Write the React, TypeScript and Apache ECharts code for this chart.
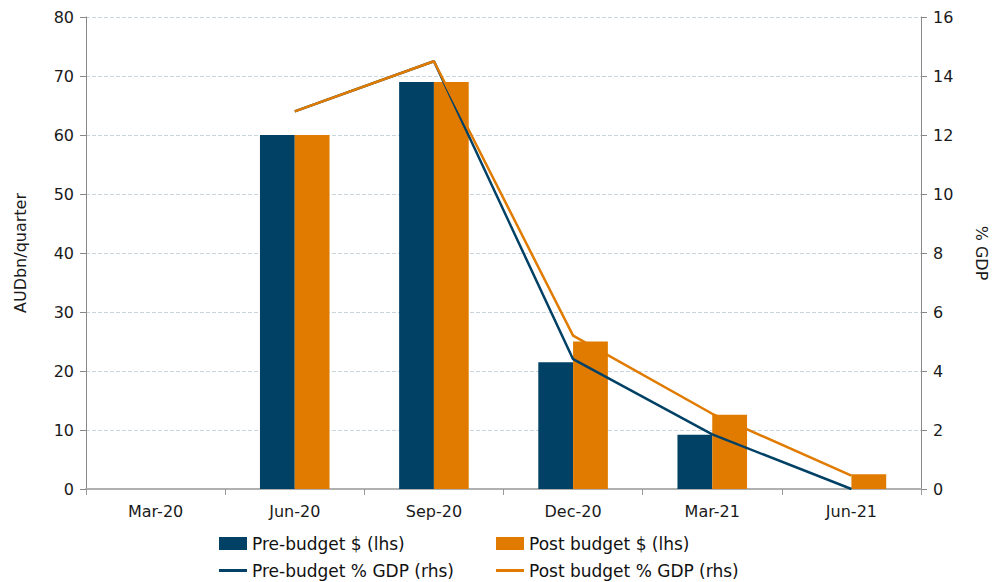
import React, { useEffect, useRef } from "react";
import * as echarts from "echarts";

const categories = ["Mar-20", "Jun-20", "Sep-20", "Dec-20", "Mar-21", "Jun-21"];
const preBudgetAud = [null, 60, 69, 21.5, 9.2, 0];
const postBudgetAud = [null, 60, 69, 25, 12.6, 2.5];
const preBudgetGdp = [null, 12.8, 14.5, 4.4, 1.85, 0];
const postBudgetGdp = [null, 12.8, 14.5, 5.2, 2.55, 0.45];

const NAVY = "#004165";
const ORANGE = "#E07B00";
const FONT = "DejaVu Sans";

export default function App() {
  const ref = useRef<HTMLDivElement>(null);
  useEffect(() => {
    document.body.style.margin = "0";
    if (!ref.current) return;
    const chart = echarts.init(ref.current, undefined, { renderer: "svg" });
    const legendText = { fontFamily: FONT, fontSize: 17, color: "#111" };
    const mkLegend = (name: string, left: number, top: number, isLine: boolean) => ({
      data: [name],
      left,
      top,
      padding: 0,
      icon: "rect",
      itemWidth: 28,
      itemHeight: isLine ? 3 : 13,
      textStyle: legendText,
    });
    chart.setOption({
      animation: false,
      textStyle: { fontFamily: FONT },
      grid: { left: 86, right: 80, top: 17, bottom: 93 },
      legend: [
        mkLegend("Pre-budget $ (lhs)", 219, 535, false),
        mkLegend("Post budget $ (lhs)", 496, 535, false),
        mkLegend("Pre-budget % GDP (rhs)", 219, 562, true),
        mkLegend("Post budget % GDP (rhs)", 496, 562, true),
      ],
      xAxis: {
        type: "category",
        data: categories,
        axisLine: { lineStyle: { color: "#b0b0b0", width: 2 } },
        axisTick: { show: true, length: 6, lineStyle: { color: "#999" } },
        axisLabel: { color: "#1a1a1a", fontSize: 16, margin: 14, fontFamily: FONT },
      },
      yAxis: [
        {
          type: "value",
          min: 0,
          max: 80,
          interval: 10,
          name: "AUDbn/quarter",
          nameLocation: "middle",
          nameGap: 58,
          nameTextStyle: { color: "#1a1a1a", fontSize: 16, fontFamily: FONT },
          axisLine: { show: true, lineStyle: { color: "#888" } },
          axisTick: { show: true, length: 6, lineStyle: { color: "#888" } },
          axisLabel: { color: "#1a1a1a", fontSize: 16, margin: 12, fontFamily: FONT },
          splitLine: { lineStyle: { color: "#c9d5dc", type: "dashed" } },
        },
        {
          type: "value",
          min: 0,
          max: 16,
          interval: 2,
          position: "right",
          name: "% GDP",
          nameLocation: "middle",
          nameRotate: -90,
          nameGap: 52,
          nameTextStyle: { color: "#1a1a1a", fontSize: 16, fontFamily: FONT },
          axisLine: { show: true, lineStyle: { color: "#888" } },
          axisTick: { show: true, length: 6, lineStyle: { color: "#888" } },
          axisLabel: { color: "#1a1a1a", fontSize: 16, margin: 12, fontFamily: FONT },
          splitLine: { show: false },
        },
      ],
      series: [
        {
          name: "Pre-budget $ (lhs)",
          type: "bar",
          data: preBudgetAud,
          itemStyle: { color: NAVY },
          barGap: "0%",
          barCategoryGap: "50%",
        },
        {
          name: "Post budget $ (lhs)",
          type: "bar",
          data: postBudgetAud,
          itemStyle: { color: ORANGE },
        },
        {
          name: "Pre-budget % GDP (rhs)",
          type: "line",
          yAxisIndex: 1,
          data: preBudgetGdp,
          showSymbol: false,
          symbol: "none",
          lineStyle: { color: NAVY, width: 2.5 },
          itemStyle: { color: NAVY },
        },
        {
          name: "Post budget % GDP (rhs)",
          type: "line",
          yAxisIndex: 1,
          data: postBudgetGdp,
          showSymbol: false,
          symbol: "none",
          lineStyle: { color: ORANGE, width: 2.5 },
          itemStyle: { color: ORANGE },
        },
      ],
    });
    return () => chart.dispose();
  }, []);
  return <div ref={ref} style={{ width: 1001, height: 582 }} />;
}
